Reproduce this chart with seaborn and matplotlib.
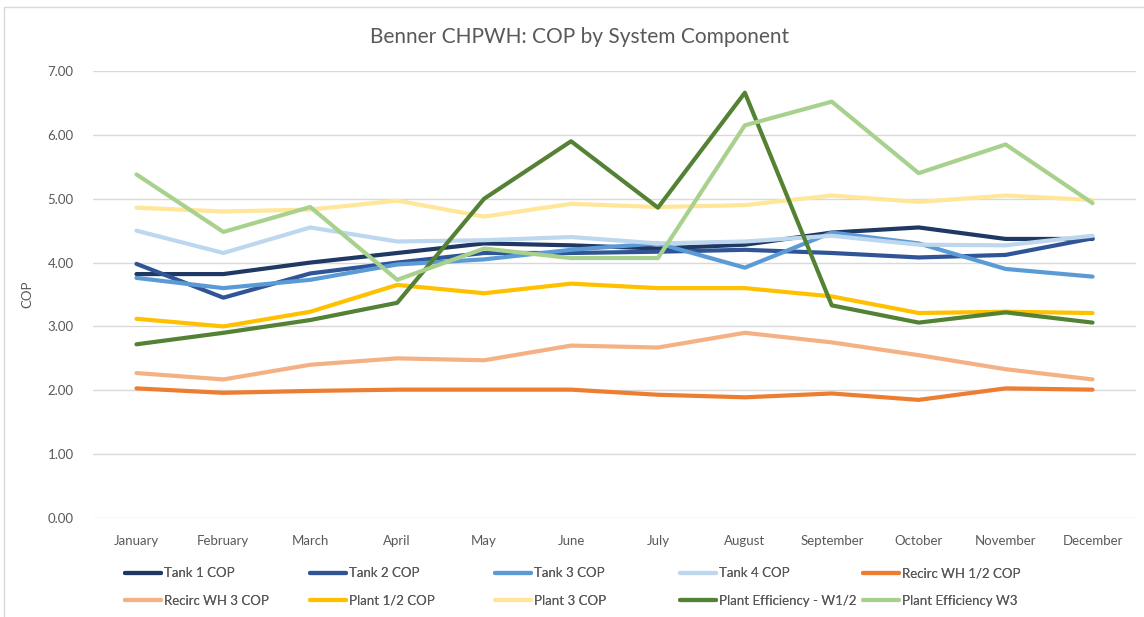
import matplotlib
matplotlib.use("Agg")
import matplotlib.pyplot as plt
import seaborn as sns
import pandas as pd
from matplotlib.lines import Line2D

months = ["January", "February", "March", "April", "May", "June", "July",
          "August", "September", "October", "November", "December"]

tank1 = [3.82, 3.82, 4.00, 4.15, 4.30, 4.27, 4.22, 4.28, 4.47, 4.55, 4.37, 4.37]
tank2 = [3.98, 3.45, 3.83, 4.00, 4.15, 4.15, 4.17, 4.20, 4.15, 4.08, 4.12, 4.38]
tank3 = [3.76, 3.60, 3.73, 3.97, 4.05, 4.20, 4.30, 3.92, 4.47, 4.30, 3.90, 3.78]
tank4 = [4.50, 4.15, 4.55, 4.33, 4.35, 4.40, 4.30, 4.33, 4.42, 4.28, 4.27, 4.42]
recirc12 = [2.03, 1.96, 1.99, 2.01, 2.01, 2.01, 1.93, 1.89, 1.95, 1.85, 2.03, 2.01]
recirc3 = [2.27, 2.17, 2.40, 2.50, 2.47, 2.70, 2.67, 2.90, 2.75, 2.55, 2.33, 2.17]
plant12 = [3.12, 3.00, 3.23, 3.65, 3.52, 3.67, 3.60, 3.60, 3.47, 3.21, 3.23, 3.21]
plant3 = [4.86, 4.80, 4.83, 4.97, 4.72, 4.92, 4.87, 4.90, 5.05, 4.95, 5.05, 4.98]
eff_w12 = [2.72, 2.90, 3.10, 3.37, 5.00, 5.90, 4.86, 6.66, 3.33, 3.06, 3.22, 3.06]
eff_w3 = [5.38, 4.48, 4.87, 3.73, 4.22, 4.07, 4.07, 6.15, 6.52, 5.40, 5.85, 4.93]

series_names = ["Tank 1 COP", "Tank 2 COP", "Tank 3 COP", "Tank 4 COP",
                "Recirc WH 1/2 COP", "Recirc WH 3 COP", "Plant 1/2 COP",
                "Plant 3 COP", "Plant Efficiency - W1/2", "Plant Efficiency W3"]
series_values = [tank1, tank2, tank3, tank4, recirc12, recirc3, plant12,
                 plant3, eff_w12, eff_w3]
colors = ["#203864", "#2F5597", "#5B9BD5", "#BDD7EE", "#ED7D31", "#F4B183",
          "#FFC000", "#FFE699", "#548235", "#A9D18E"]

rows = []
for name, vals in zip(series_names, series_values):
    for i, (m, v) in enumerate(zip(months, vals)):
        rows.append({"Month": m, "idx": i, "Series": name, "COP": v})
df = pd.DataFrame(rows)

sns.set_theme(style="white")
plt.rcParams["font.family"] = ["Lato", "DejaVu Sans"]

fig = plt.figure(figsize=(11.44, 6.17), dpi=100)
ax = fig.add_axes([93 / 1144, 1 - 518 / 617, (1136 - 93) / 1144, (518 - 71) / 617])

sns.lineplot(data=df, x="idx", y="COP", hue="Series", hue_order=series_names,
             palette=colors, linewidth=3.0, ax=ax, legend=False, sort=False)

ax.set_xlim(-0.5, 11.5)
ax.set_ylim(0, 7)
ax.set_yticks([0, 1, 2, 3, 4, 5, 6, 7])
ax.set_yticklabels([f"{v:.2f}" for v in range(8)], color="#595959", fontsize=9.5)
ax.set_xticks(range(12))
ax.set_xticklabels(months, color="#595959", fontsize=9.5)
ax.tick_params(axis="y", length=0, pad=14)
ax.tick_params(axis="x", length=0, pad=12)
ax.set_xlabel("")
ax.set_ylabel("COP", color="#595959", fontsize=9.5, labelpad=10)
ax.grid(axis="y", color="#D9D9D9", linewidth=1.0)
ax.set_axisbelow(True)
for s in ax.spines.values():
    s.set_visible(False)

fig.text(0.507, 1 - 37 / 617, "Benner CHPWH: COP by System Component",
         ha="center", va="center", fontsize=15, color="#595959")

# legend: 5 equal-width columns, filled row by row
col_x = [125, 310, 495, 680, 863]
for c in range(5):
    idxs = [c, c + 5]
    hs = [Line2D([0], [0], color=colors[i], linewidth=3.0) for i in idxs]
    labs = [series_names[i] for i in idxs]
    leg = fig.legend(hs, labs, loc="center left",
                     bbox_to_anchor=(col_x[c] / 1144, 1 - 587 / 617),
                     frameon=False, fontsize=9.5, handlelength=2.7,
                     handletextpad=0.25, labelspacing=1.15, borderpad=0,
                     borderaxespad=0, labelcolor="#595959")
    fig.add_artist(leg)

# outer chart border
fig.add_artist(Line2D([4 / 1144, 4 / 1144], [0, 1 - 7 / 617], color="#D9D9D9",
                      linewidth=1.0, transform=fig.transFigure))
fig.add_artist(Line2D([4 / 1144, 1], [1 - 7 / 617, 1 - 7 / 617], color="#D9D9D9",
                      linewidth=1.0, transform=fig.transFigure))

fig.savefig("out.png", dpi=100)
